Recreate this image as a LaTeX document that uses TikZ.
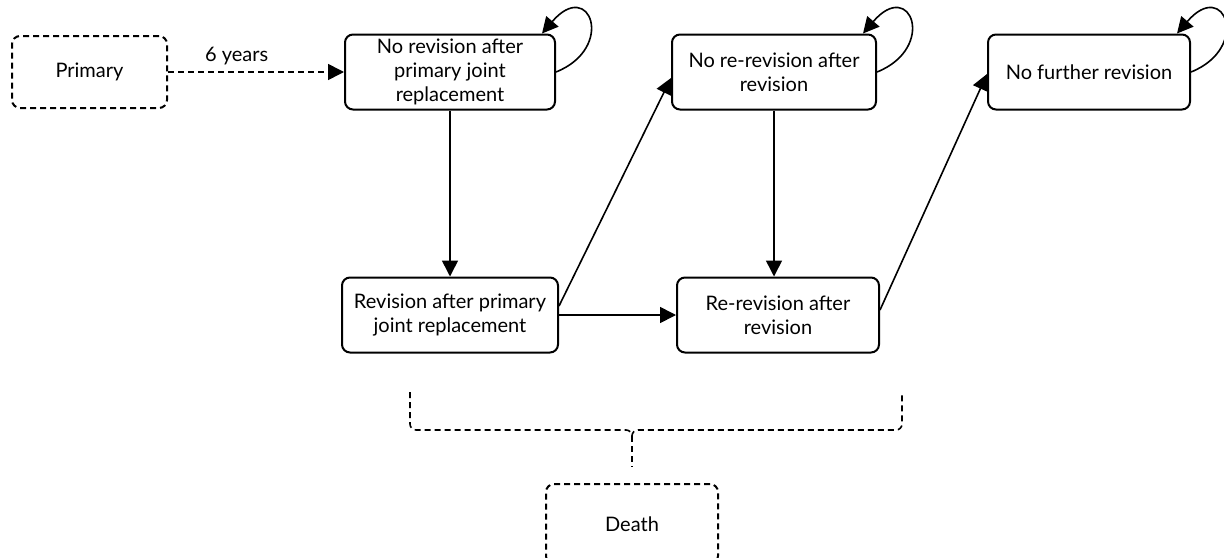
\documentclass[tikz,border=0pt]{standalone}
\usepackage{fontspec}
\setmainfont{Lato}
\usetikzlibrary{arrows.meta,positioning}

\begin{document}
\begin{tikzpicture}[auto, node distance=2cm, >={Triangle[length=8pt,width=8pt]}, line width=0.8pt]
	\tikzset{state/.style={draw, rectangle, rounded corners=4pt, align=center, inner sep=1pt, line width=1pt, minimum height=37.5pt, font=\fontsize{10}{12.2}\selectfont},
		dstate/.style={state, dash pattern=on 3pt off 2pt},
		dline/.style={dash pattern=on 3pt off 2pt},
	}
	\useasboundingbox (0,0) rectangle (612pt,-278.5pt);

	\node [dstate, minimum width=77.5pt, minimum height=36pt] (primary) at (44.75pt,-36pt) {Primary};
	\node [state, minimum width=105pt, right=88pt of primary] (norev) {No revision after\\primary joint\\replacement};
	\node [state, minimum width=102pt, right=57.5pt of norev] (norerev) {No re-revision after\\revision};
	\node [state, minimum width=101pt, right=55pt of norerev] (nofurther) {No further revision};
	\node [state, minimum width=108pt, below=83pt of norev] (revafter) {Revision after primary\\joint replacement};
	\node [state, minimum width=101pt, right=58.5pt of revafter] (rerev) {Re-revision after\\revision};

	% brace round the two revision states, down to death
	\coordinate (stemtop) at (316pt,-218pt);
	\coordinate (stemend) at (316pt,-233.5pt);
	\draw[dline] (205pt,-196pt) -- (205pt,-212pt) to[out=-90,in=180] (208pt,-215pt) -- (313pt,-215pt)
		to[out=0,in=90] (stemtop) to[out=90,in=180] (319pt,-215pt) -- (448pt,-215pt)
		to[out=0,in=-90] (451pt,-212pt) -- (451pt,-196pt);
	\draw[dline] (stemtop) -- (stemend);
	\node [dstate, minimum width=86pt, minimum height=40pt, below=8pt of stemend] (death) {Death};

	\path[draw,->,dline] (primary) -- node[above, pos=0.39] {\fontsize{10}{12}\selectfont 6 years} (norev);
	\path[draw,->] (norev.south) -- (norev.south |- revafter.north);
	\path[draw,->] (norerev.south) -- (norerev.south |- rerev.north);
	\path[draw,->] (revafter) -- (rerev);
	\path[draw,->] ([yshift=4.5pt]revafter.east) -- ([yshift=-3pt]norerev.west);
	\path[draw,->] ([yshift=2.5pt]rerev.east) -- ([yshift=-1pt]nofurther.west);

	\draw[->] (norev.east) .. controls +(30pt,12pt) and +(24pt,28pt) .. ([xshift=-7pt]norev.north east);
	\draw[->] (norerev.east) .. controls +(30pt,12pt) and +(24pt,28pt) .. ([xshift=-7pt]norerev.north east);
	\draw[->] (nofurther.east) .. controls +(30pt,12pt) and +(24pt,28pt) .. ([xshift=-7pt]nofurther.north east);

\end{tikzpicture}
\end{document}
